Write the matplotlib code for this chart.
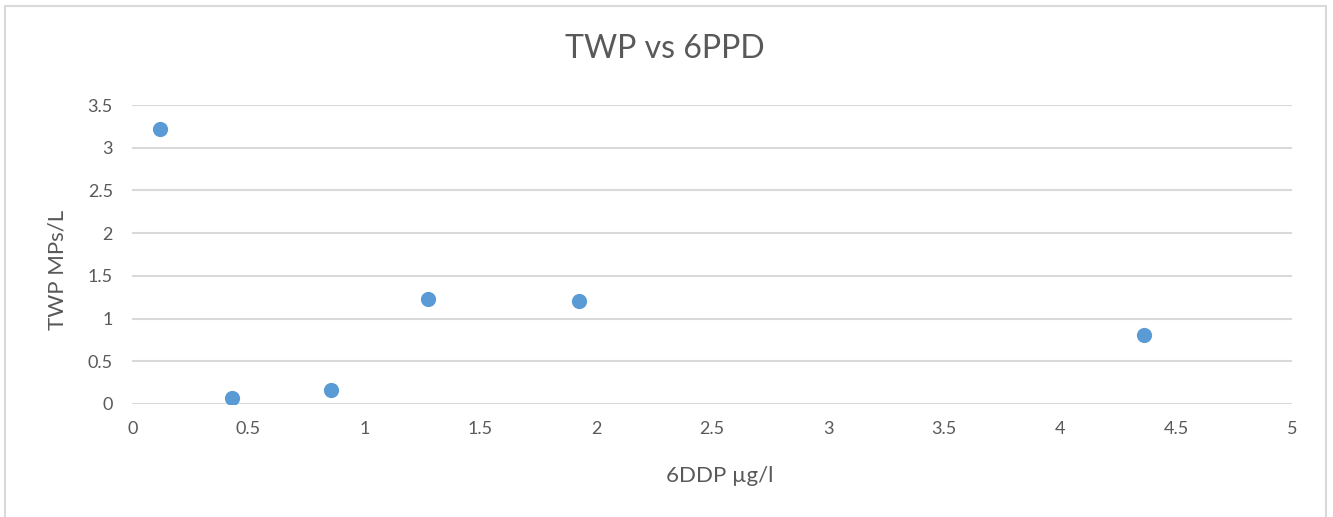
import matplotlib.pyplot as plt
from matplotlib.patches import Rectangle

# 6PPD concentration (ug/l) and TWP counts (MPs/L)
ppd_ugl = [0.12, 0.43, 0.857, 1.276, 1.926, 4.36]
twp_mps = [3.22, 0.07, 0.164, 1.23, 1.21, 0.805]

x_ticks = [0, 0.5, 1, 1.5, 2, 2.5, 3, 3.5, 4, 4.5, 5]
y_ticks = [0, 0.5, 1, 1.5, 2, 2.5, 3, 3.5]

text_col = '#595959'
grid_col = '#D9D9D9'
plt.rcParams['font.family'] = ['Lato', 'DejaVu Sans']

fig = plt.figure(figsize=(13.33, 5.17), dpi=100)
# chart area outline
fig.patches.append(Rectangle((5 / 1333, -0.1), 1321 / 1333, 1.1 - 6 / 517,
                             transform=fig.transFigure, fill=False,
                             edgecolor='#D9D9D9', linewidth=1.5))

ax = fig.add_axes([0.0993, 0.2186, 0.8699, 0.5783])
ax.scatter(ppd_ugl, twp_mps, s=120, color='#5B9BD5', zorder=3, linewidths=0)

ax.set_xlim(0, 5)
ax.set_ylim(0, 3.5)
ax.set_xticks(x_ticks)
ax.set_yticks(y_ticks)
ax.set_xticklabels([f'{v:g}' for v in x_ticks])
ax.set_yticklabels([f'{v:g}' for v in y_ticks])
ax.tick_params(length=0, labelsize=13, colors=text_col, pad=12)
ax.tick_params(axis='y', pad=14)
ax.grid(axis='y', color=grid_col, linewidth=1.5)
ax.set_axisbelow(True)
for s in ax.spines.values():
    s.set_visible(False)

fig.text(720 / 1333, 1 - 476 / 517, '6DDP µg/l', ha='center', va='center',
         fontsize=16, color=text_col)
fig.text(58 / 1333, 1 - 270 / 517, 'TWP MPs/L', ha='center', va='center',
         rotation=90, fontsize=16, color=text_col)
fig.text(665 / 1333, 1 - 49 / 517, 'TWP vs 6PPD', ha='center', va='center',
         fontsize=23, color=text_col)

fig.savefig('out.png', dpi=100)
